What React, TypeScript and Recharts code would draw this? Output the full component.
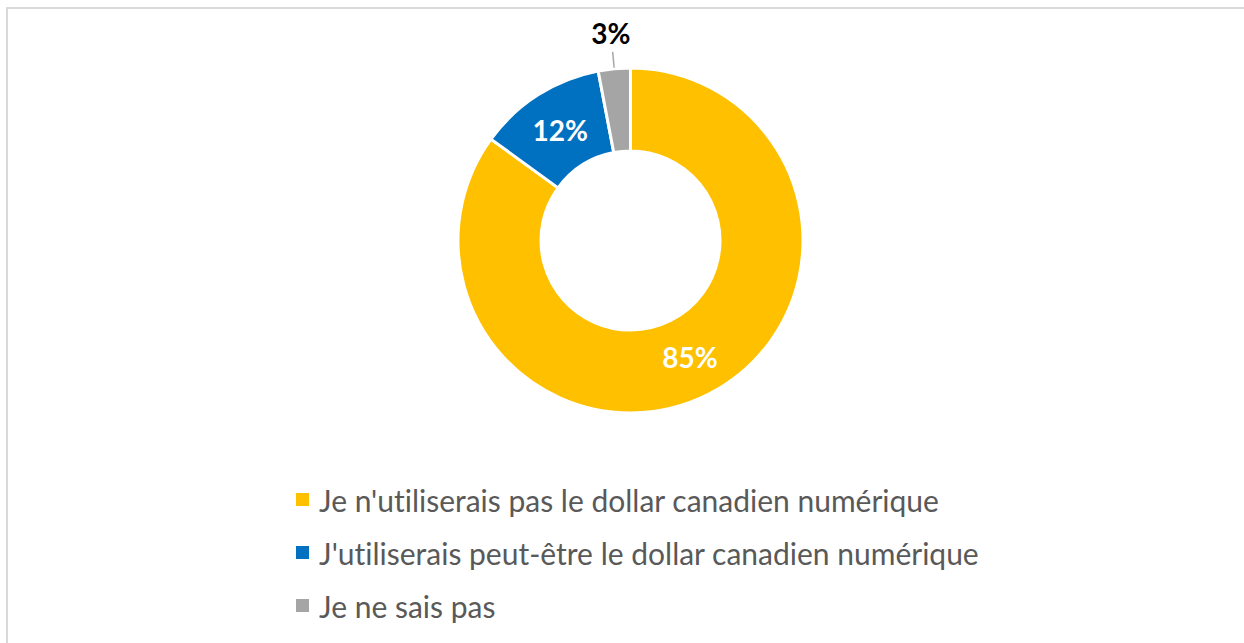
import { PieChart, Pie, Cell, Legend } from "recharts";

const categories = [
  "Je n'utiliserais pas le dollar canadien numérique",
  "J'utiliserais peut-être le dollar canadien numérique",
  "Je ne sais pas",
];
const values = [85, 12, 3];
const colors = ["#FFC000", "#0070C0", "#A5A5A5"];

const data = categories.map((name, i) => ({ name, value: values[i] }));

const FONT = "Lato, 'Open Sans', sans-serif";
const RAD = Math.PI / 180;

const renderLabel = (props: any) => {
  const { cx, cy, midAngle, innerRadius, outerRadius, value } = props;
  const cos = Math.cos(-midAngle * RAD);
  const sin = Math.sin(-midAngle * RAD);
  if (value < 5) {
    // small slice: label outside with a short leader line
    const r1 = outerRadius + 1;
    const r2 = outerRadius + 17;
    const rt = outerRadius + 36;
    return (
      <g>
        <line
          x1={cx + r1 * cos}
          y1={cy + r1 * sin}
          x2={cx + r2 * cos}
          y2={cy + r2 * sin}
          stroke="#A6A6A6"
          strokeWidth={1.5}
        />
        <text
          x={cx + rt * cos}
          y={cy + rt * sin}
          textAnchor="middle"
          dominantBaseline="central"
          fill="#000"
          fontFamily={FONT}
          fontWeight={700}
          fontSize={28}
        >
          {value}%
        </text>
      </g>
    );
  }
  const r = (innerRadius + outerRadius) / 2;
  return (
    <text
      x={cx + r * cos}
      y={cy + r * sin}
      textAnchor="middle"
      dominantBaseline="central"
      fill="#fff"
      fontFamily={FONT}
      fontWeight={700}
      fontSize={28}
    >
      {value}%
    </text>
  );
};

// legend keeps the original category order
const renderLegend = () => (
  <div style={{ fontFamily: FONT, fontVariantLigatures: "none" }}>
    {categories.map((name, i) => (
      <div
        key={name}
        style={{
          display: "flex",
          alignItems: "center",
          height: 53,
          fontSize: 30,
          color: "#595959",
        }}
      >
        <span
          style={{
            display: "inline-block",
            width: 13,
            height: 13,
            background: colors[i],
            marginRight: 10,
          }}
        />
        <span>{name}</span>
      </div>
    ))}
  </div>
);

export default function App() {
  return (
    <div
      style={{
        position: "fixed",
        left: 0,
        top: 0,
        width: 1244,
        height: 643,
        overflow: "hidden",
        background: "#fff",
      }}
    >
      <div
        style={{
          position: "absolute",
          left: 6,
          top: 7,
          width: 1260,
          height: 660,
          border: "2px solid #D9D9D9",
        }}
      />
      <div style={{ position: "absolute", left: 0, top: 0 }}>
        <PieChart
          width={1244}
          height={643}
          margin={{ top: 0, right: 0, bottom: 0, left: 0 }}
        >
          <Pie
            data={data}
            dataKey="value"
            nameKey="name"
            cx={630.5}
            cy={240.5}
            innerRadius={89.5}
            outerRadius={172.5}
            startAngle={90}
            endAngle={-270}
            stroke="#fff"
            strokeWidth={3}
            label={renderLabel}
            labelLine={false}
            isAnimationActive={false}
          >
            {data.map((d, i) => (
              <Cell key={d.name} fill={colors[i]} />
            ))}
          </Pie>
          <Legend
            layout="horizontal"
            verticalAlign="bottom"
            align="center"
            content={renderLegend}
            wrapperStyle={{ left: 296, top: 473, bottom: "auto", width: 900 }}
          />
        </PieChart>
      </div>
    </div>
  );
}
